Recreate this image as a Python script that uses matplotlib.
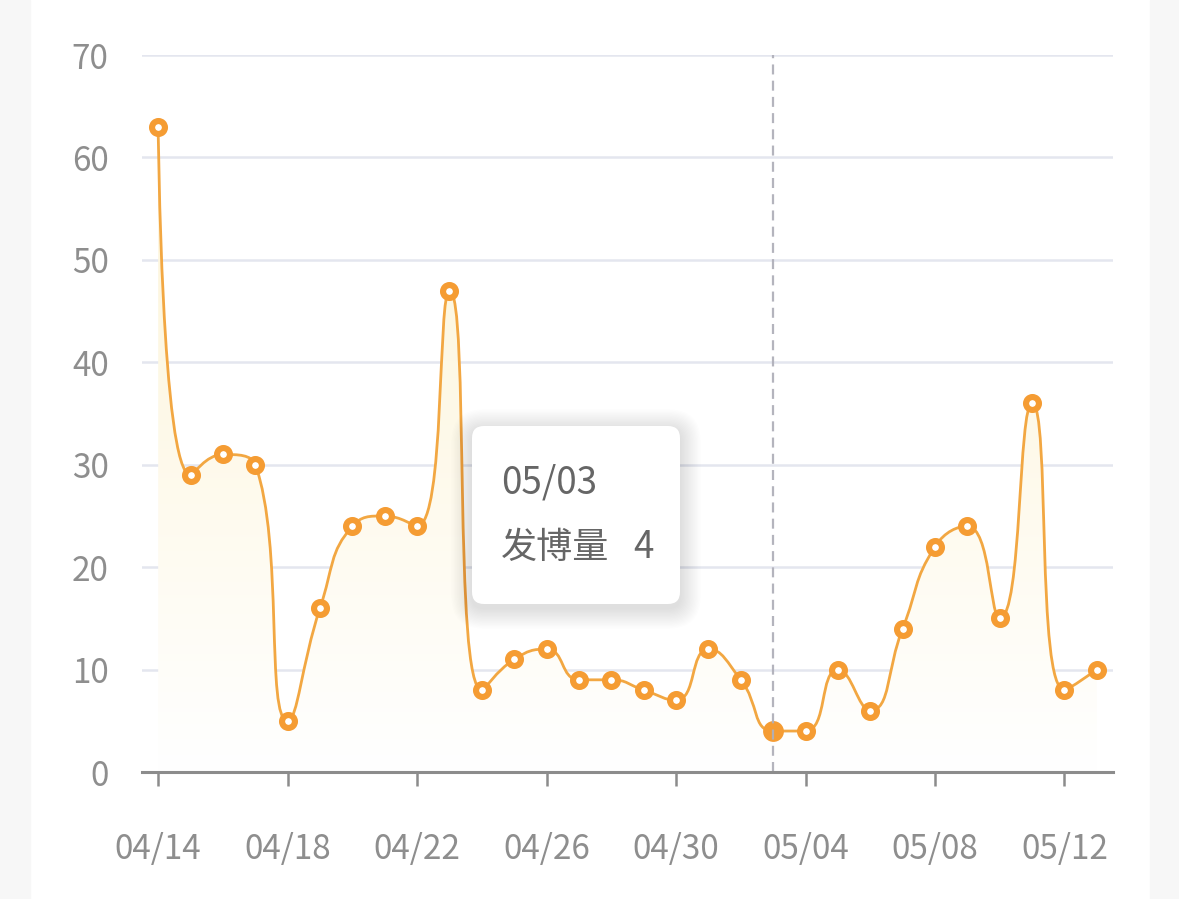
import numpy as np
import matplotlib
matplotlib.use("Agg")
import matplotlib.pyplot as plt
from matplotlib.path import Path
from matplotlib.patches import PathPatch, FancyBboxPatch, Rectangle

plt.rcParams['font.family'] = ['Noto Sans CJK SC', 'DejaVu Sans']

# ---------------- data ----------------
dates = ["04/14", "04/15", "04/16", "04/17", "04/18", "04/19", "04/20", "04/21",
         "04/22", "04/23", "04/24", "04/25", "04/26", "04/27", "04/28", "04/29",
         "04/30", "05/01", "05/02", "05/03", "05/04", "05/05", "05/06", "05/07",
         "05/08", "05/09", "05/10", "05/11", "05/12", "05/13"]
values = [63, 29, 31, 30, 5, 16, 24, 25, 24, 47, 8, 11, 12, 9, 9, 8, 7, 12, 9, 4,
          4, 10, 6, 14, 22, 24, 15, 36, 8, 10]
y_ticks = [0, 10, 20, 30, 40, 50, 60, 70]
highlight_date = "05/03"
series_name = "发博量"

# ---------------- style ----------------
W, H, DPI = 1179, 899, 100
LINE = '#f2a742'
MARK = '#f59c33'
TICKC = '#8e8e8e'
GRIDC = '#e4e6ef'

fig = plt.figure(figsize=(W / DPI, H / DPI), dpi=DPI)
fig.patch.set_facecolor('white')
# light side strips
fig.add_artist(Rectangle((0, 0), 30 / W, 1, transform=fig.transFigure,
                         color='#f7f7f7', zorder=-10))
fig.add_artist(Rectangle((1150 / W, 0), 1 - 1150 / W, 1, transform=fig.transFigure,
                         color='#f7f7f7', zorder=-10))

ax = fig.add_axes([142 / W, 1 - 772 / H, (1113 - 142) / W, (772 - 55) / H])
ax.set_facecolor('none')
x = np.arange(len(dates))
ax.set_xlim(-0.5, len(dates) - 0.5)
ax.set_ylim(0, 70)

# ---------- ECharts-like smoothing in display space ----------
def smooth_path(xs, ys, smooth=0.5):
    pts = ax.transData.transform(np.column_stack([xs, ys]))
    n = len(pts)
    verts = [tuple(pts[0])]
    codes = [Path.MOVETO]
    cp0 = pts[0].copy()
    for i in range(1, n):
        px, py = pts[i - 1]
        cx, cy = pts[i]
        if i == n - 1:
            cp1 = np.array([cx, cy])
            ncp0 = None
        else:
            nx, ny = pts[i + 1]
            vx, vy = nx - px, ny - py
            l0 = np.hypot(cx - px, cy - py)
            l1 = np.hypot(nx - cx, ny - cy)
            r = l1 / (l0 + l1)
            ncx = cx + vx * smooth * r
            ncy = cy + vy * smooth * r
            ncx = min(ncx, max(nx, cx)); ncy = min(ncy, max(ny, cy))
            ncx = max(ncx, min(nx, cx)); ncy = max(ncy, min(ny, cy))
            vx, vy = ncx - cx, ncy - cy
            c1x = cx - vx * l0 / l1
            c1y = cy - vy * l0 / l1
            c1x = min(c1x, max(px, cx)); c1y = min(c1y, max(py, cy))
            c1x = max(c1x, min(px, cx)); c1y = max(c1y, min(py, cy))
            vx, vy = cx - c1x, cy - c1y
            ncx = cx + vx * l1 / l0
            ncy = cy + vy * l1 / l0
            cp1 = np.array([c1x, c1y])
            ncp0 = np.array([ncx, ncy])
        verts += [tuple(cp0), tuple(cp1), (cx, cy)]
        codes += [Path.CURVE4] * 3
        cp0 = ncp0
    inv = ax.transData.inverted()
    verts = inv.transform(np.array(verts))
    return verts, codes

verts, codes = smooth_path(x, values)
line_path = Path(verts, codes)

# area (gradient fill clipped to the curve area)
area_verts = list(map(tuple, verts)) + [(x[-1], 0), (x[0], 0), (x[0], values[0])]
area_codes = list(codes) + [Path.LINETO, Path.LINETO, Path.CLOSEPOLY]
area_patch = PathPatch(Path(area_verts, area_codes), facecolor='none',
                       edgecolor='none')
ax.add_patch(area_patch)
grad = np.linspace(0, 1, 256).reshape(-1, 1)
top = np.array([253, 244, 214]) / 255.0
bot = np.array([255, 255, 255]) / 255.0
img = np.zeros((256, 1, 3))
for k in range(3):
    img[:, 0, k] = bot[k] + (top[k] - bot[k]) * grad[:, 0]
im = ax.imshow(img, extent=[x[0], x[-1], 0, max(values)], origin='lower',
               aspect='auto', zorder=1, interpolation='bilinear')
im.set_clip_path(area_patch)

# grid
for yt in y_ticks[1:]:
    ax.axhline(yt, color=GRIDC, lw=1.8, zorder=0)

# curve
ax.add_patch(PathPatch(line_path, facecolor='none', edgecolor=LINE, lw=2.0,
                       zorder=3))

# markers
hi = dates.index(highlight_date)
mask = np.arange(len(x)) != hi
ax.plot(x[mask], np.array(values)[mask], linestyle='none', marker='o', ms=9.3,
        mfc='white', mec=MARK, mew=4.4, zorder=4)
ax.plot([x[hi]], [values[hi]], linestyle='none', marker='o', ms=15,
        mfc=MARK, mec='none', zorder=4)

# pointer line
ax.plot([x[hi], x[hi]], [0, 70], color='#b0b0ba', lw=1.6,
        linestyle=(0, (4.5, 2.8)), zorder=5, alpha=0.95, clip_on=False)

# axes styling
for s in ['top', 'right', 'left']:
    ax.spines[s].set_visible(False)
ax.spines['bottom'].set_color('#8c8c8c')
ax.spines['bottom'].set_linewidth(2.2)
ax.spines['bottom'].set_zorder(6)
ax.set_xticks(x[::4])
ax.set_xticklabels(dates[::4])
ax.set_yticks(y_ticks)
ax.tick_params(axis='x', direction='out', length=10, width=1.8, color='#8c8c8c',
               labelsize=24, labelcolor=TICKC, pad=33)
ax.tick_params(axis='y', length=0, labelsize=24, labelcolor=TICKC, pad=24)
for lab in ax.get_xticklabels() + ax.get_yticklabels():
    lab.set_fontweight('light')

# ---------------- tooltip ----------------
def px(xp, yp):
    return xp / DPI, (H - yp) / DPI

bx0, by0, bx1, by1 = 472, 426, 680, 604
# soft shadow
for i in range(16):
    g = (i + 1) * 1.3
    sh = FancyBboxPatch(px(bx0 - g, by1 + g + 4), (bx1 - bx0 + 2 * g) / DPI,
                        (by1 - by0 + 2 * g) / DPI,
                        boxstyle=f"round,pad=0,rounding_size={(12 + g) / DPI}",
                        transform=fig.dpi_scale_trans, facecolor='black',
                        edgecolor='none', alpha=0.008, zorder=20)
    fig.add_artist(sh)
box = FancyBboxPatch(px(bx0, by1), (bx1 - bx0) / DPI, (by1 - by0) / DPI,
                     boxstyle=f"round,pad=0,rounding_size={12 / DPI}",
                     transform=fig.dpi_scale_trans, facecolor='white',
                     edgecolor='none', zorder=21)
fig.add_artist(box)
tx, ty = px(501, 483)
fig.text(tx, ty, highlight_date, transform=fig.dpi_scale_trans, fontsize=26.5,
         color='#666666', ha='left', va='center', zorder=22, fontweight='light')
tx, ty = px(501, 548)
fig.text(tx, ty, series_name, transform=fig.dpi_scale_trans, fontsize=26,
         color='#666666', ha='left', va='center', zorder=22, fontweight='light')
tx, ty = px(654, 548)
fig.text(tx, ty, str(values[hi]), transform=fig.dpi_scale_trans, fontsize=26.5,
         color='#666666', ha='right', va='center', zorder=22, fontweight='light')

fig.savefig('out.png', dpi=DPI, facecolor=fig.get_facecolor())
